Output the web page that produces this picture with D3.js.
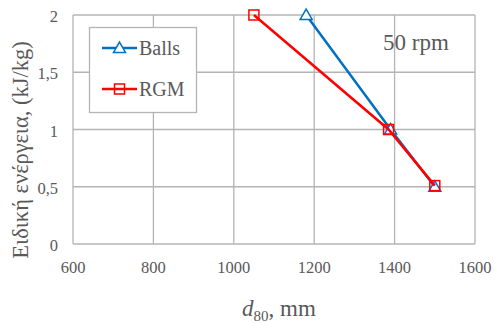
<!DOCTYPE html>
<html>
<head>
<meta charset="utf-8">
<script src="https://cdn.jsdelivr.net/npm/d3@7"></script>
<style>
  body { margin: 0; background: #fff; }
</style>
</head>
<body>
<div id="chart"></div>
<script>
// Specific energy vs d80, 50 rpm

const xTicks = [600, 800, 1000, 1200, 1400, 1600];
const yTicks = [0, 0.5, 1, 1.5, 2];
const yTickLabels = ['0', '0,5', '1', '1,5', '2'];

const ballsD80 = [1180, 1390, 1500];
const ballsEnergy = [2, 1, 0.5];
const rgmD80 = [1050, 1385, 1500];
const rgmEnergy = [2, 1, 0.51];

const seriesNames = ['Balls', 'RGM'];
const seriesColors = ['#0070c0', '#ff0000'];

const FONT = "'Liberation Serif', 'Times New Roman', serif";

function drawChart() {
    const width = 495, height = 323;
    const margin = { left: 73, right: 20, top: 15, bottom: 79 };

    const svg = d3.select('#chart').append('svg')
        .attr('width', width)
        .attr('height', height);

    const x = d3.scaleLinear().domain([600, 1600]).range([margin.left, width - margin.right]);
    const y = d3.scaleLinear().domain([0, 2]).range([height - margin.bottom, margin.top]);

    // grid lines
    const grid = svg.append('g');
    xTicks.forEach(t => {
        grid.append('line')
            .attr('x1', x(t)).attr('x2', x(t))
            .attr('y1', y(0)).attr('y2', y(2))
            .attr('stroke', '#b4b4b4').attr('stroke-width', 1.3);
    });
    yTicks.forEach(t => {
        grid.append('line')
            .attr('x1', x(600)).attr('x2', x(1600))
            .attr('y1', y(t)).attr('y2', y(t))
            .attr('stroke', '#b4b4b4').attr('stroke-width', 1.3);
    });

    // tick labels
    svg.append('g').selectAll('text')
        .data(xTicks)
        .enter().append('text')
        .attr('x', d => x(d))
        .attr('y', y(0) + 29)
        .attr('text-anchor', 'middle')
        .attr('font-family', FONT)
        .attr('fill', '#595959')
        .attr('font-size', '16.5px')
        .text(d => d);

    svg.append('g').selectAll('text')
        .data(yTicks)
        .enter().append('text')
        .attr('x', x(600) - 15)
        .attr('y', d => y(d) + 7)
        .attr('text-anchor', 'end')
        .attr('font-family', FONT)
        .attr('fill', '#595959')
        .attr('font-size', '16.5px')
        .text((d, i) => yTickLabels[i]);

    // series
    const series = [
        { name: seriesNames[0], color: seriesColors[0], xs: ballsD80, ys: ballsEnergy, marker: 'triangle' },
        { name: seriesNames[1], color: seriesColors[1], xs: rgmD80, ys: rgmEnergy, marker: 'square' }
    ];

    const line = d3.line().x(d => x(d[0])).y(d => y(d[1]));

    function marker(g, type, cx, cy, color) {
        if (type === 'triangle') {
            g.append('path')
                .attr('d', d3.symbol().type(d3.symbolTriangle).size(62)())
                .attr('transform', `translate(${cx},${cy + 1})`)
                .attr('fill', '#fff')
                .attr('stroke', color)
                .attr('stroke-width', 1.5);
        } else {
            g.append('rect')
                .attr('x', cx - 5).attr('y', cy - 5)
                .attr('width', 10).attr('height', 10)
                .attr('fill', 'none')
                .attr('stroke', color)
                .attr('stroke-width', 1.5);
        }
    }

    series.forEach(s => {
        const pts = s.xs.map((v, i) => [v, s.ys[i]]);
        const g = svg.append('g');
        g.append('path')
            .attr('d', line(pts))
            .attr('fill', 'none')
            .attr('stroke', s.color)
            .attr('stroke-width', 2.5);
        pts.forEach(p => marker(g, s.marker, x(p[0]), y(p[1]), s.color));
    });

    // legend
    const lg = svg.append('g');
    lg.append('rect')
        .attr('x', 89.5).attr('y', 27.5)
        .attr('width', 107).attr('height', 85)
        .attr('fill', '#fff')
        .attr('stroke', '#b4b4b4')
        .attr('stroke-width', 1.3);
    series.forEach((s, i) => {
        const ly = 48 + i * 41;
        lg.append('line')
            .attr('x1', 102).attr('x2', 137)
            .attr('y1', ly).attr('y2', ly)
            .attr('stroke', s.color).attr('stroke-width', 2.5);
        marker(lg, s.marker, 119.5, ly, s.color);
        lg.append('text')
            .attr('x', 139).attr('y', ly + 7)
            .attr('font-family', FONT)
            .attr('fill', '#595959')
            .attr('font-size', '20px')
            .text(s.name);
    });

    // annotation
    svg.append('text')
        .attr('x', 383).attr('y', 50)
        .attr('font-family', FONT)
        .attr('fill', '#595959')
        .attr('font-size', '23px')
        .text('50 rpm');

    // axis titles
    const xt = svg.append('text')
        .attr('x', 279).attr('y', 316)
        .attr('text-anchor', 'middle')
        .attr('font-family', FONT)
        .attr('fill', '#595959')
        .attr('font-size', '23px');
    xt.append('tspan').attr('font-style', 'italic').text('d');
    xt.append('tspan').attr('font-size', '15px').attr('dy', 5).text('80');
    xt.append('tspan').attr('dy', -5).text(', mm');

    svg.append('text')
        .attr('transform', 'translate(28,150) rotate(-90)')
        .attr('text-anchor', 'middle')
        .attr('font-family', FONT)
        .attr('fill', '#595959')
        .attr('font-size', '22.5px')
        .text('Ειδική ενέργεια, (kJ/kg)');
}

drawChart();
</script>
</body>
</html>
